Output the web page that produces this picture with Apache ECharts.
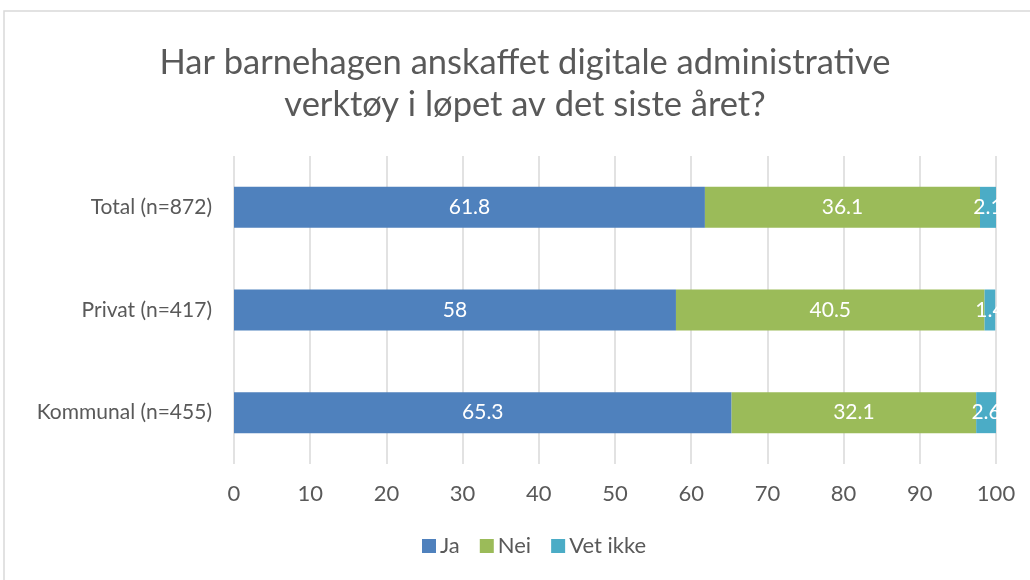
<!DOCTYPE html>
<html>
<head>
<meta charset="utf-8">
<script src="https://cdn.jsdelivr.net/npm/echarts@6/dist/echarts.min.js"></script>
<style>
  html, body { margin: 0; padding: 0; background: #fff; }
  #chart { width: 1030px; height: 580px; }
</style>
</head>
<body>
<div id="chart"></div>
<script>
// kategorier (ovenfra og ned)
const categories = ['Total (n=872)', 'Privat (n=417)', 'Kommunal (n=455)']
const seriesNames = ['Ja', 'Nei', 'Vet ikke']
const jaValues = [61.8, 58, 65.3]
const neiValues = [36.1, 40.5, 32.1]
const vetIkkeValues = [2.1, 1.4, 2.6]
const xTicks = [0, 10, 20, 30, 40, 50, 60, 70, 80, 90, 100]

const colors = ['#4F81BD', '#9BBB59', '#4BACC6']
const font = 'Lato, "Open Sans", sans-serif'
const textColor = '#595959'

const myChart = echarts.init(document.getElementById('chart'))

const seriesData = [jaValues, neiValues, vetIkkeValues]
const series = seriesData.map((data, index) => ({
  name: seriesNames[index],
  type: 'bar',
  stack: 'total',
  barWidth: 41,
  data,
  label: {
    show: true,
    position: 'inside',
    color: '#fff',
    fontFamily: font,
    fontSize: 21,
  },
  emphasis: { disabled: true },
}))

const option = {
  animation: false,
  color: colors,
  graphic: [
    {
      type: 'rect',
      shape: { x: 4, y: 11, width: 1040, height: 600 },
      style: { fill: 'none', stroke: '#D9D9D9', lineWidth: 1.5 },
      silent: true,
    },
  ],
  title: {
    text: 'Har barnehagen anskaffet digitale administrative\nverktøy i løpet av det siste året?',
    left: 520,
    top: 37,
    textAlign: 'center',
    textStyle: {
      fontFamily: font,
      fontSize: 34.5,
      fontWeight: 'normal',
      color: textColor,
      lineHeight: 42,
    },
  },
  legend: {
    data: seriesNames,
    bottom: 18,
    left: 417,
    icon: 'rect',
    itemWidth: 14,
    itemHeight: 14,
    itemGap: 20,
    itemStyle: { borderWidth: 0 },
    textStyle: {
      fontFamily: font,
      fontSize: 22,
      color: textColor,
      padding: [0, 0, 0, -1],
    },
  },
  grid: {
    left: 234,
    right: 34,
    top: 156,
    bottom: 116,
  },
  xAxis: {
    type: 'value',
    min: xTicks[0],
    max: xTicks[xTicks.length - 1],
    interval: 10,
    axisLine: { show: false },
    axisTick: { show: false },
    axisLabel: {
      margin: 19,
      fontFamily: font,
      fontSize: 22,
      color: textColor,
    },
    splitLine: {
      lineStyle: { color: '#D9D9D9', width: 1.5 },
    },
  },
  yAxis: {
    type: 'category',
    data: categories,
    inverse: true,
    axisLine: { show: false },
    axisTick: { show: false },
    axisLabel: {
      margin: 22,
      fontFamily: font,
      fontSize: 21,
      color: textColor,
    },
  },
  series,
}

myChart.setOption(option)
</script>
</body>
</html>
